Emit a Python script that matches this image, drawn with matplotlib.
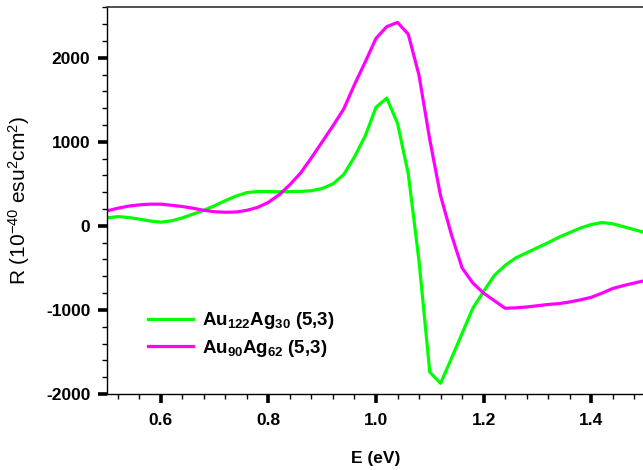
import matplotlib
matplotlib.use("Agg")
import matplotlib.pyplot as plt
from matplotlib.ticker import MultipleLocator, FixedLocator

plt.rcParams['font.family'] = ['Liberation Sans', 'DejaVu Sans']
plt.rcParams['mathtext.fontset'] = 'custom'
plt.rcParams['mathtext.rm'] = 'Liberation Sans'
plt.rcParams['mathtext.bf'] = 'Liberation Sans:bold'
plt.rcParams['mathtext.it'] = 'Liberation Sans:italic'
plt.rcParams['axes.unicode_minus'] = False

energy = [0.50, 0.52, 0.54, 0.56, 0.58, 0.60, 0.62, 0.64, 0.66, 0.68,
          0.70, 0.72, 0.74, 0.76, 0.78, 0.80, 0.82, 0.84, 0.86, 0.88,
          0.90, 0.92, 0.94, 0.96, 0.98, 1.00, 1.02, 1.04, 1.06, 1.08,
          1.10, 1.12, 1.14, 1.16, 1.18, 1.20, 1.22, 1.24, 1.26, 1.28,
          1.30, 1.32, 1.34, 1.36, 1.38, 1.40, 1.42, 1.44, 1.46, 1.48, 1.50]

r_au122ag30 = [95, 110, 100, 80, 58, 44, 60, 95, 140, 185,
               240, 300, 355, 396, 408, 408, 405, 408, 410, 418,
               445, 500, 610, 820, 1070, 1410, 1520, 1220, 620, -420,
               -1740, -1873, -1580, -1280, -980, -780, -590, -470, -380, -320,
               -260, -200, -135, -80, -25, 15, 40, 25, -10, -45, -80]

r_au90ag62 = [178, 210, 235, 250, 258, 258, 245, 230, 210, 185,
              168, 162, 165, 185, 220, 280, 370, 490, 630, 810,
              1000, 1190, 1390, 1680, 1950, 2230, 2370, 2420, 2280, 1790,
              1024, 360, -100, -500, -680, -800, -890, -980, -975, -965,
              -950, -935, -925, -905, -880, -850, -800, -745, -710, -680, -651]

labels = [r"Au$_{\mathbf{122}}$Ag$_{\mathbf{30}}$ (5,3)",
          r"Au$_{\mathbf{90}}$Ag$_{\mathbf{62}}$ (5,3)"]
colors = ["#00ff00", "#ff00ff"]

x_major = [0.6, 0.8, 1.0, 1.2, 1.4]
x_labels = ["0.6", "0.8", "1.0", "1.2", "1.4"]
y_major = [-2000, -1000, 0, 1000, 2000]

fig = plt.figure(figsize=(6.43, 4.70), dpi=100)
ax = fig.add_axes([107/643, 1 - 394/470, (645 - 107)/643, (394 - 7.3)/470])

ax.plot(energy, r_au122ag30, color=colors[0], lw=2.3, label=labels[0])
ax.plot(energy, r_au90ag62, color=colors[1], lw=2.3, label=labels[1])

ax.set_xlim(0.5, 1.5)
ax.set_ylim(-2000, 2600)
ax.xaxis.set_major_locator(FixedLocator(x_major))
ax.set_xticklabels(x_labels)
ax.xaxis.set_minor_locator(MultipleLocator(0.04))
ax.yaxis.set_major_locator(FixedLocator(y_major))
ax.yaxis.set_minor_locator(MultipleLocator(200))

ax.spines['right'].set_visible(False)
for s in ['left', 'bottom']:
    ax.spines[s].set_linewidth(1.0)
ax.spines['top'].set_linewidth(1.2)
ax.spines['top'].set_color('#333333')

ax.tick_params(which='major', direction='out', length=6.5, width=2.6)
ax.tick_params(which='minor', direction='out', length=3.6, width=1.0)
ax.tick_params(axis='x', which='major', pad=7)
ax.tick_params(axis='y', which='major', pad=5.5)
ax.tick_params(top=False, right=False, which='both')
for lab in ax.get_xticklabels() + ax.get_yticklabels():
    lab.set_fontsize(12.5)
    lab.set_fontweight('bold')

ax.set_xlabel("E (eV)", fontsize=12.5, fontweight='bold', labelpad=16.5)
ax.set_ylabel(r"R (10$^{-40}$ esu$^{2}$cm$^{2}$)", fontsize=15)
ax.yaxis.set_label_coords(-0.14, 0.5)

leg = ax.legend(loc='upper left', bbox_to_anchor=(0.045, 0.26), frameon=False,
                handlelength=2.4, handletextpad=0.5, labelspacing=0.35,
                prop={'weight': 'bold', 'size': 13.5})

fig.savefig("out.png", dpi=100)
